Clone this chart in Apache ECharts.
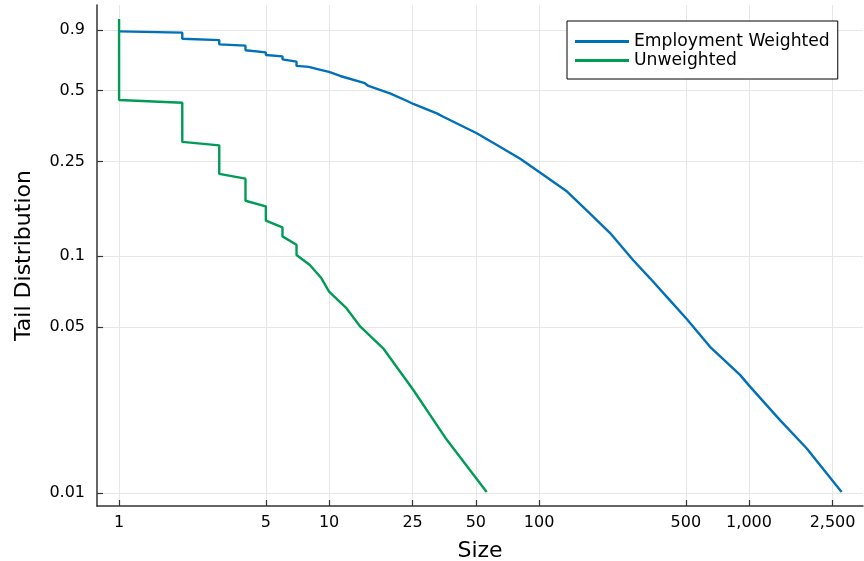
<!DOCTYPE html>
<html>
<head>
<meta charset="utf-8">
<script src="https://cdn.jsdelivr.net/npm/echarts@6/dist/echarts.min.js"></script>
<style>
html,body{margin:0;padding:0;background:#fff;}
#chart{width:864px;height:561px;}
</style>
</head>
<body>
<div id="chart"></div>
<script>
// ---- data ----
const xTicks = [1, 5, 10, 25, 50, 100, 500, 1000, 2500];
const xTickLabels = ['1', '5', '10', '25', '50', '100', '500', '1,000', '2,500'];
const yTicks = [0.01, 0.05, 0.1, 0.25, 0.5, 0.9];
const yTickLabels = ['0.01', '0.05', '0.1', '0.25', '0.5', '0.9'];

const sizeWeighted = [1, 2, 2, 3, 3, 4, 4, 5, 5, 6, 6, 7, 7, 8, 8, 9, 10, 11.3, 14.8, 15.4, 19.5, 23.4, 25.2, 32.6, 35, 50.5, 63, 81, 101, 136, 175, 218, 281, 338, 405, 505, 652, 906, 1011, 1405, 1884, 2760];
const tailWeighted = [0.887, 0.876, 0.826, 0.815, 0.782, 0.772, 0.738, 0.723, 0.705, 0.696, 0.676, 0.661, 0.634, 0.628, 0.620, 0.612, 0.598, 0.575, 0.536, 0.522, 0.486, 0.452, 0.438, 0.400, 0.387, 0.3295, 0.294, 0.258, 0.225, 0.187, 0.151, 0.125, 0.096, 0.0805, 0.0674, 0.0542, 0.0414, 0.0315, 0.0281, 0.0203, 0.0154, 0.0101];

const sizeUnweighted = [1, 1, 2, 2, 3, 3, 4, 4, 5, 5, 6, 6, 7, 7, 8.1, 9.2, 10, 12.1, 14.1, 18.1, 25.2, 36.3, 56.3];
const tailUnweighted = [1.0, 0.455, 0.443, 0.303, 0.293, 0.222, 0.212, 0.171, 0.162, 0.141, 0.132, 0.121, 0.1115, 0.101, 0.0916, 0.0805, 0.0707, 0.0602, 0.0503, 0.0408, 0.0272, 0.0168, 0.0101];

function pairs(xs, ys) { return xs.map((x, i) => [x, ys[i]]); }
function labelFor(ticks, labels) {
  return function (v) {
    let best = 0, bd = Infinity;
    for (let i = 0; i < ticks.length; i++) {
      const d = Math.abs(Math.log(v) - Math.log(ticks[i]));
      if (d < bd) { bd = d; best = i; }
    }
    return labels[best];
  };
}

const font = 'DejaVu Sans';
const chart = echarts.init(document.getElementById('chart'), null, {renderer: 'canvas'});
chart.setOption({
  animation: false,
  backgroundColor: '#fff',
  textStyle: {fontFamily: font},
  grid: {left: 97, right: 1, top: 5, bottom: 55, containLabel: false, outerBoundsMode: 'none'},
  legend: {
    orient: 'vertical',
    left: 567, top: 21,
    padding: [11, 8, 9, 8],
    borderColor: '#000', borderWidth: 1, borderRadius: 0,
    backgroundColor: '#fff',
    itemGap: 0,
    itemWidth: 54, itemHeight: 3,
    icon: 'rect',
    textStyle: {fontFamily: font, fontSize: 17.2, lineHeight: 19, color: '#000'},
    data: ['Employment Weighted', 'Unweighted']
  },
  xAxis: {
    type: 'log',
    min: 0.785, max: 3490,
    name: 'Size',
    nameLocation: 'middle',
    nameGap: 34,
    nameTextStyle: {fontFamily: font, fontSize: 22, color: '#000'},
    axisLine: {show: true, onZero: false, lineStyle: {color: '#333', width: 1.5}},
    axisTick: {show: true, inside: true, length: 6, customValues: xTicks, lineStyle: {color: '#333', width: 1.2}},
    axisLabel: {customValues: xTicks, formatter: labelFor(xTicks, xTickLabels), fontFamily: font, fontSize: 16, color: '#000', margin: 9},
    splitLine: {show: true, lineStyle: {color: '#e6e6e6', width: 1}},
    minorTick: {show: false}, minorSplitLine: {show: false}
  },
  yAxis: {
    type: 'log',
    min: 0.00881, max: 1.146,
    name: 'Tail Distribution',
    nameLocation: 'middle',
    nameGap: 62,
    nameTextStyle: {fontFamily: font, fontSize: 22, color: '#000'},
    axisLine: {show: true, onZero: false, lineStyle: {color: '#333', width: 1.5}},
    axisTick: {show: true, inside: true, length: 6, customValues: yTicks, lineStyle: {color: '#333', width: 1.2}},
    axisLabel: {customValues: yTicks, formatter: labelFor(yTicks, yTickLabels), fontFamily: font, fontSize: 16, color: '#000', margin: 12},
    splitLine: {show: true, lineStyle: {color: '#e6e6e6', width: 1}},
    minorTick: {show: false}, minorSplitLine: {show: false}
  },
  series: [
    {
      name: 'Employment Weighted', type: 'line', data: pairs(sizeWeighted, tailWeighted),
      showSymbol: false, symbol: 'none', smooth: false,
      color: '#0070B8',
      lineStyle: {color: '#0070B8', width: 2.4}
    },
    {
      name: 'Unweighted', type: 'line', data: pairs(sizeUnweighted, tailUnweighted),
      showSymbol: false, symbol: 'none', smooth: false,
      color: '#009B55',
      lineStyle: {color: '#009B55', width: 2.4}
    }
  ]
});
</script>
</body>
</html>
